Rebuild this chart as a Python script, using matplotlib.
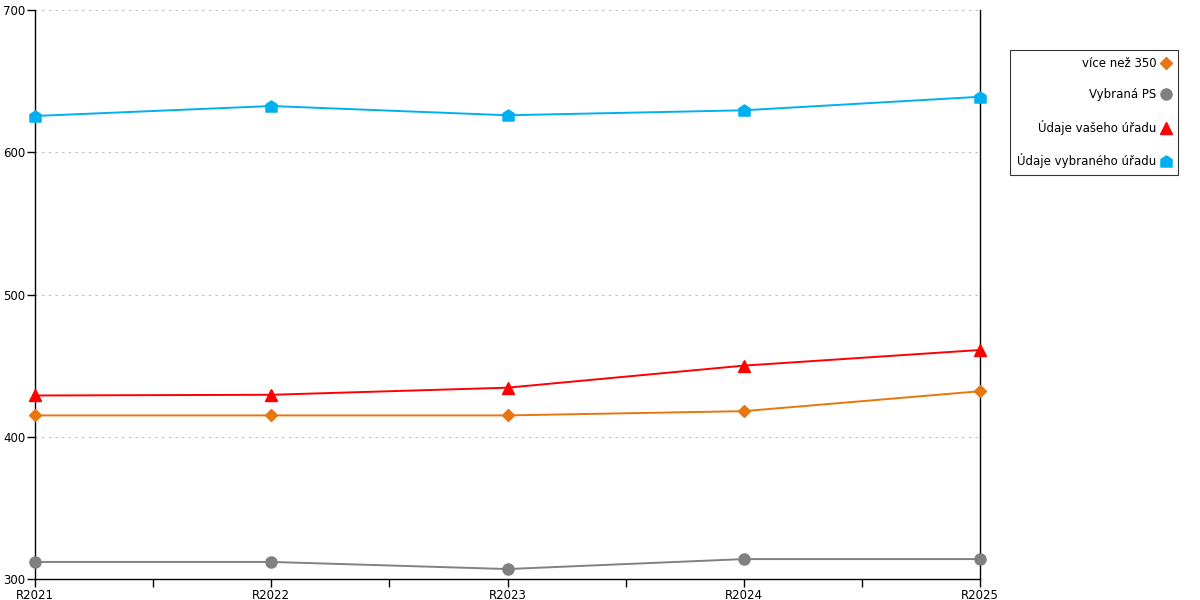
import matplotlib
matplotlib.use('Agg')
from matplotlib import pyplot as plt
from matplotlib.path import Path
import numpy as np

# data
roky = ['R2021', 'R2022', 'R2023', 'R2024', 'R2025']
vice_nez_350 = [415, 415, 415, 418, 432]
vybrana_ps = [312, 312, 307, 314, 314]
udaje_vaseho = [429, 429.5, 434.5, 450, 461]
udaje_vybraneho = [625.5, 632.5, 626, 629.5, 639]

# domecek jako marker
house = Path([(-1, -1), (1, -1), (1, 0.35), (0, 1), (-1, 0.35), (-1, -1)],
             [Path.MOVETO, Path.LINETO, Path.LINETO, Path.LINETO, Path.LINETO, Path.CLOSEPOLY])

fig = plt.figure(figsize=(12, 6), dpi=100)
ax = fig.add_axes([35 / 1200, 21 / 600, 945 / 1200, 569 / 600])

x = np.arange(len(roky))
ax.plot(x, vice_nez_350, color='#E8760F', lw=1.4, marker='D', ms=6, label='více než 350', clip_on=False, zorder=3)
ax.plot(x, vybrana_ps, color='#808080', lw=1.4, marker='o', ms=8, label='Vybraná PS', clip_on=False, zorder=3)
ax.plot(x, udaje_vaseho, color='#FF0000', lw=1.4, marker='^', ms=9, label='Údaje vašeho úřadu', clip_on=False, zorder=3)
ax.plot(x, udaje_vybraneho, color='#00B0F0', lw=1.4, marker=house, ms=8, label='Údaje vybraného úřadu', clip_on=False, zorder=3)

ax.set_xlim(0, len(roky) - 1)
ax.set_ylim(300, 700)
ax.set_xticks(x)
ax.set_xticklabels(roky)
ax.set_xticks(x[:-1] + 0.5, minor=True)
ax.set_yticks([300, 400, 500, 600, 700])
ax.tick_params(axis='both', labelsize=8.5, length=6, width=1, color='black', pad=1)
ax.tick_params(axis='x', which='minor', length=6, width=1)

ax.grid(axis='y', color='#BBBBBB', linestyle=(0, (2, 4)), lw=0.8)
ax.set_axisbelow(True)
ax.spines['top'].set_visible(False)
for s in ['left', 'bottom', 'right']:
    ax.spines[s].set_color('black')
    ax.spines[s].set_linewidth(1)

leg = ax.legend(loc='upper left', bbox_to_anchor=((1010 - 35) / 945, 1 - 40 / 569),
                borderaxespad=0, markerfirst=False, frameon=True, fancybox=False, edgecolor='black',
                fontsize=8.5, handlelength=0.7, labelspacing=1.55, borderpad=0.6, handletextpad=0.5)
leg.get_frame().set_linewidth(0.8)
for h in leg.get_lines():
    h.set_linestyle('none')

fig.savefig('out.png', dpi=100)
